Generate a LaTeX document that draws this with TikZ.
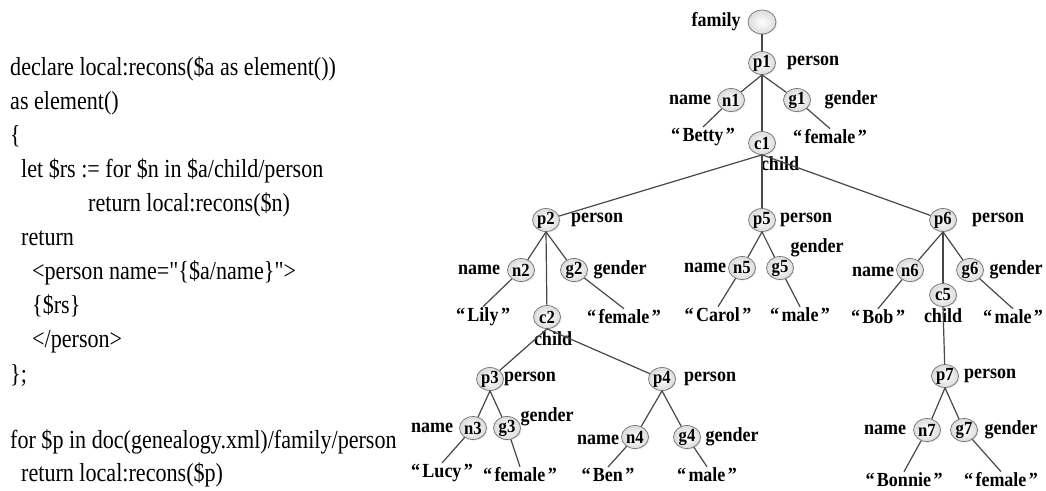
\documentclass[tikz,border=0pt]{standalone}
\usepackage{fontspec}
\newfontfamily\codefont{Liberation Serif}[FakeStretch=0.85]
\newfontfamily\treefont{Liberation Serif}[FakeStretch=0.9]
\usetikzlibrary{shapes.geometric,shadows}
\newcommand\qv[1]{“\hspace{2.5pt}#1\hspace{2.5pt}”}
\tikzset{
 code/.style={anchor=base west, inner sep=0pt, font=\codefont\fontsize{26}{30}\selectfont},
 elem/.style={ellipse, draw=black!55, line width=0.7pt, minimum width=27pt, minimum height=23pt, inner sep=0pt,
   inner color=white, outer color=black!14,
   drop shadow={opacity=0.2, shadow xshift=1pt, shadow yshift=-1pt},
   font=\treefont\bfseries\fontsize{18.5}{18.5}\selectfont},
 lbl/.style={inner sep=0pt, font=\treefont\bfseries\fontsize{20}{20}\selectfont},
 val/.style={lbl, inner sep=1pt},
 link/.style={draw=black!72, line width=1.2pt},
}
\begin{document}
\begin{tikzpicture}[x=1pt,y=-1pt]
\useasboundingbox (0,0) rectangle (1046,490);
% code
\node[code] (l1) at (10,75) {declare local:recons(\$a as element())};
\node[code] (l2) at (10,109) {as element()};
\node[code] (l3) at (10,143) {\{};
\node[code] (l4) at (21,177) {let \$rs := for \$n in \$a/child/person};
\node[code] (l5) at (88,211) {return local:recons(\$n)};
\node[code] (l6) at (21,245) {return};
\node[code] (l7) at (32,279) {<person name="\{\$a/name\}">};
\node[code] (l8) at (32,313) {\{\$rs\}};
\node[code] (l9) at (32,347) {</person>};
\node[code] (l10) at (10,382) {\};};
\node[code] (l11) at (10,448) {for \$p in doc(genealogy.xml)/family/person};
\node[code] (l12) at (21,481) {return local:recons(\$p)};

% tree nodes
\node[elem, minimum width=28pt, minimum height=24pt] (fam) at (762,22) {};
\node[lbl] (tfam) at (716,22) {family};
\node[elem] (p1) at (762,63) {p1};
\node[lbl] (tp1) at (813,63) {person};
\node[elem] (n1) at (731,100) {n1};
\node[lbl] (tn1) at (690,100) {name};
\node[elem] (g1) at (797,100) {g1};
\node[lbl] (tg1) at (851,100) {gender};
\node[val] (v1) at (703,137) {\qv{Betty}};
\node[elem] (c1) at (762,143) {c1};
\node[val] (w1) at (830,137) {\qv{female}};
\node[lbl] (tc1) at (780,164) {child};

\node[elem] (p2) at (546,220) {p2};
\node[lbl] (tp2) at (597,220) {person};
\node[elem] (n2) at (521,270) {n2};
\node[lbl] (tn2) at (479,270) {name};
\node[elem] (g2) at (574,270) {g2};
\node[lbl] (tg2) at (620,270) {gender};
\node[val] (v2) at (483,317) {\qv{Lily}};
\node[elem] (c2) at (547,317) {c2};
\node[val] (w2) at (624,317) {\qv{female}};
\node[lbl] (tc2) at (553,339) {child};

\node[elem] (p5) at (762,220) {p5};
\node[lbl] (tp5) at (806,220) {person};
\node[elem] (n5) at (742,268) {n5};
\node[lbl] (tn5) at (705,268) {name};
\node[elem] (g5) at (780,268) {g5};
\node[lbl] (tg5) at (817,248) {gender};
\node[val] (v5) at (718,315) {\qv{Carol}};
\node[val] (w5) at (800,315) {\qv{male}};

\node[elem] (p6) at (943,220) {p6};
\node[lbl] (tp6) at (998,220) {person};
\node[elem] (n6) at (910,270) {n6};
\node[lbl] (tn6) at (873,272) {name};
\node[elem] (c5) at (943,295) {c5};
\node[elem] (g6) at (970,270) {g6};
\node[lbl] (tg6) at (1016,270) {gender};
\node[val] (v6) at (878,317) {\qv{Bob}};
\node[lbl] (tc5) at (943,316) {child};
\node[val] (w6) at (1013,317) {\qv{male}};

\node[elem] (p3) at (490,379) {p3};
\node[lbl] (tp3) at (530,379) {person};
\node[elem] (n3) at (473,428) {n3};
\node[lbl] (tn3) at (432,428) {name};
\node[elem] (g3) at (507,428) {g3};
\node[lbl] (tg3) at (547,417) {gender};
\node[val] (v3) at (442,473) {\qv{Lucy}};
\node[val] (w3) at (520,475) {\qv{female}};

\node[elem] (p4) at (662,379) {p4};
\node[lbl] (tp4) at (710,379) {person};
\node[elem] (n4) at (635,437) {n4};
\node[lbl] (tn4) at (598,440) {name};
\node[elem] (g4) at (687,437) {g4};
\node[lbl] (tg4) at (732,437) {gender};
\node[val] (v4) at (608,475) {\qv{Ben}};
\node[val] (w4) at (707,475) {\qv{male}};

\node[elem] (p7) at (945,376) {p7};
\node[lbl] (tp7) at (990,376) {person};
\node[elem] (n7) at (927,430) {n7};
\node[lbl] (tn7) at (885,430) {name};
\node[elem] (g7) at (964,430) {g7};
\node[lbl] (tg7) at (1011,430) {gender};
\node[val] (v7) at (904,480) {\qv{Bonnie}};
\node[val] (w7) at (1001,480) {\qv{female}};

% edges
\draw[link] (fam) -- (p1);
\draw[link] (p1.south) -- (n1);
\draw[link] (p1.south) -- (g1);
\draw[link] (p1.south) -- (c1);
\draw[link] (n1) -- (v1.north);
\draw[link] (g1) -- (w1.north);
\draw[link] (c1.south) -- (p2);
\draw[link] (c1.south) -- (p5);
\draw[link] (c1.south) -- (p6);

\draw[link] (p2.south) -- (n2);
\draw[link] (p2.south) -- (g2);
\draw[link] (p2.south) -- (c2);
\draw[link] (n2) -- (v2.north);
\draw[link] (g2) -- (w2.north);
\draw[link] (c2.south) -- (p3);
\draw[link] (c2.south) -- (p4);

\draw[link] (p5.south) -- (n5);
\draw[link] (p5.south) -- (g5);
\draw[link] (n5) -- (v5.north);
\draw[link] (g5) -- (w5.north);

\draw[link] (p6.south) -- (n6);
\draw[link] (p6.south) -- (c5);
\draw[link] (p6.south) -- (g6);
\draw[link] (n6) -- (v6.north);
\draw[link] (g6) -- (w6.north);
\draw[link] (c5.south) -- (p7);

\draw[link] (p3.south) -- (n3);
\draw[link] (p3.south) -- (g3);
\draw[link] (n3) -- (v3.north);
\draw[link] (g3) -- (w3.north);

\draw[link] (p4.south) -- (n4);
\draw[link] (p4.south) -- (g4);
\draw[link] (n4) -- (v4.north);
\draw[link] (g4) -- (w4.north);

\draw[link] (p7.south) -- (n7);
\draw[link] (p7.south) -- (g7);
\draw[link] (n7) -- (v7.north);
\draw[link] (g7) -- (w7.north);
\end{tikzpicture}
\end{document}
